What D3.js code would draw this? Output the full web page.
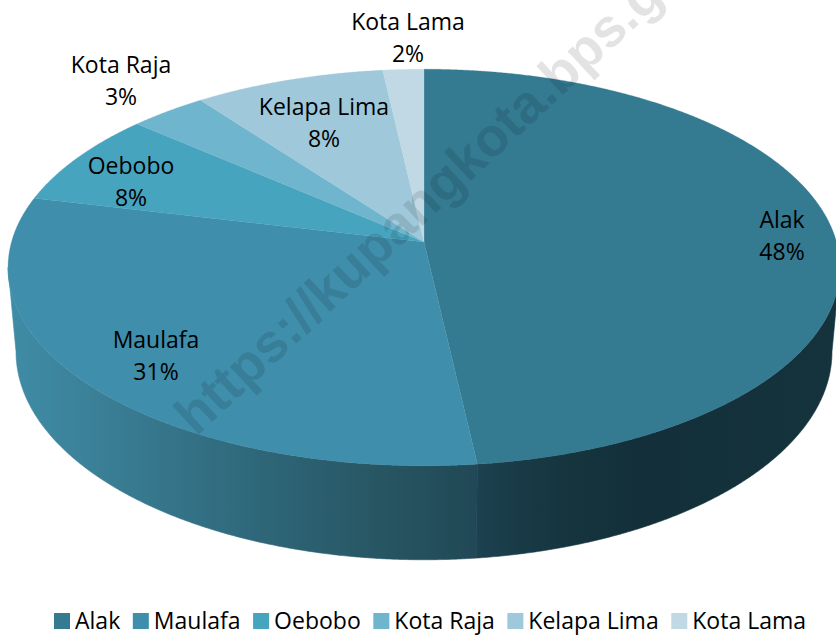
<!DOCTYPE html>
<html>
<head>
<meta charset="utf-8">
<script src="https://cdn.jsdelivr.net/npm/d3@7"></script>
<style>
html,body{margin:0;padding:0;background:#fff;overflow:hidden}
svg{display:block}
text{font-family:"Open Sans",sans-serif;fill:#000}
</style>
</head>
<body>
<div id="chart"></div>
<script>
const categories = ["Alak","Maulafa","Oebobo","Kota Raja","Kelapa Lima","Kota Lama"];
const shares = [48.2,30.5,7.7,3.4,8.4,1.8];
const labels = ["48%","31%","8%","3%","8%","2%"];
const colors = ["#347a91","#3f8eab","#46a4bf","#6fb5cd","#9fc8da","#c0d9e4"];
// layout only
const labelCentres = [[782,220],[156,340],[131,166],[121,65],[324,107],[408,22]];
const W = 836, H = 636;
const tilt = 0.1285;
const topFace = {cx:424, cy:242, rx:412.5, ry:195};
const baseFace = {cx:424, cy:325, rx:404.6, ry:204.6};
const project = (f,a) => {
  const u = Math.sin(a), v = Math.cos(a), d = 1 + tilt*v;
  return [f.cx + f.rx*u/d, f.cy - f.ry*v/d];
};
const arcPts = (f,a0,a1) => {
  const n = Math.max(2, Math.ceil(Math.abs(a1-a0)/0.005));
  return d3.range(n+1).map(i => project(f, a0 + (a1-a0)*i/n));
};
const svg = d3.select("#chart").append("svg").attr("width",W).attr("height",H);
const defs = svg.append("defs");
const pie = d3.pie().sort(null).value(d=>d);
const slices = pie(shares);
const line = d3.line();

function grad(id, stops){
  const g = defs.append("linearGradient").attr("id",id).attr("gradientUnits","userSpaceOnUse")
    .attr("x1",0).attr("x2",W).attr("y1",0).attr("y2",0);
  stops.forEach(s=>g.append("stop").attr("offset",s[0]/W).attr("stop-color",s[1]));
}
grad("wall0",[[476,"#1c4150"],[560,"#16353f"],[640,"#13303a"],[836,"#15333d"]]);
grad("wall1",[[10,"#3f8ca6"],[100,"#3a7f96"],[250,"#2f687b"],[400,"#26535f"],[476,"#214856"]]);

const leftEdge = Math.PI*2 - Math.PI/2 - Math.asin(tilt);
const rightEdge = Math.PI/2 + Math.asin(tilt);
// wall pieces: the two slices facing the viewer
[[slices[1].startAngle, leftEdge, "wall1"],[rightEdge, slices[0].endAngle, "wall0"]].forEach(w=>{
  const pts = arcPts(topFace,w[0],w[1]).concat(arcPts(baseFace,w[1],w[0]));
  svg.append("path").attr("d",line(pts)+"Z").attr("fill",`url(#${w[2]})`)
    .attr("stroke",`url(#${w[2]})`).attr("stroke-width",0.6);
});
// top face
svg.append("g").selectAll("path").data(slices).join("path")
  .attr("d",s=>line([[topFace.cx,topFace.cy]].concat(arcPts(topFace,s.startAngle,s.endAngle)))+"Z")
  .attr("fill",(s,i)=>colors[i]).attr("stroke",(s,i)=>colors[i]).attr("stroke-width",0.3);

// watermark
svg.append("text").attr("transform","translate(196,437) rotate(-43)")
  .style("font-family","'Liberation Sans',sans-serif").style("font-weight","bold")
  .attr("font-size",54).style("fill","#000").attr("fill-opacity",0.11)
  .text("https://kupangkota.bps.go.id");

// data labels
const lab = svg.append("g").attr("text-anchor","middle").attr("font-size",23);
categories.forEach((c,i)=>{
  const [x,y] = labelCentres[i];
  lab.append("text").attr("x",x).attr("y",y+8).text(c);
  lab.append("text").attr("x",x).attr("y",y+40).text(labels[i]);
});

// legend
const leg = svg.append("g");
let lx = 54;
categories.forEach((c,i)=>{
  leg.append("rect").attr("x",lx).attr("y",613).attr("width",16).attr("height",16).attr("fill",colors[i]);
  const t = leg.append("text").attr("x",lx+21).attr("y",629).attr("font-size",23).text(c);
  lx += 21 + t.node().getComputedTextLength() + 12.6;
});
</script>
</body>
</html>
